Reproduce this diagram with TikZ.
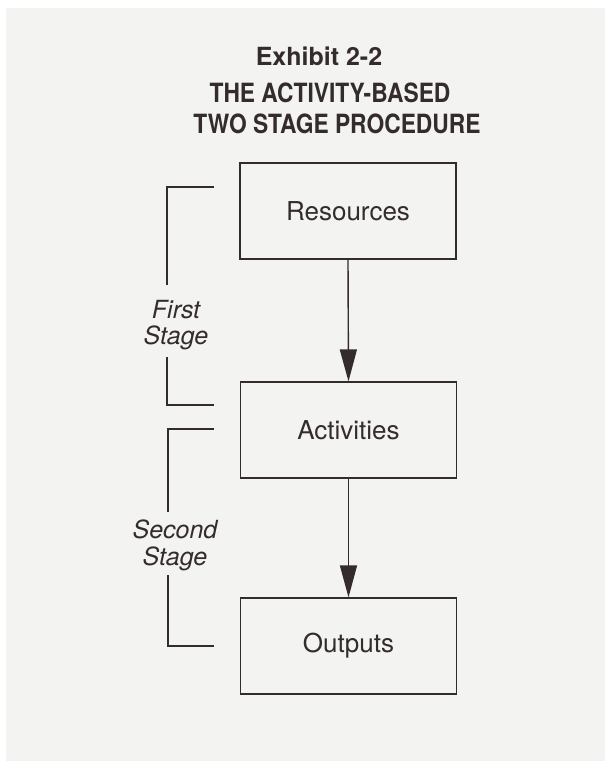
\documentclass[tikz,border=0pt]{standalone}
\usepackage{fontspec}
\setmainfont{TeX Gyre Heros}
\newfontfamily\ttlfont[FakeStretch=0.86]{TeX Gyre Heros}
\usetikzlibrary{arrows.meta}
\definecolor{ink}{RGB}{52,44,44}
\definecolor{paper}{RGB}{243,243,241}
\begin{document}
\begin{tikzpicture}[x=1pt,y=-1pt,
  every node/.style={text=ink,inner sep=0pt},
  box/.style={draw=ink,line width=1.2pt,minimum width=216pt,minimum height=96pt,font=\fontsize{26}{30}\selectfont},
  flow/.style={draw=ink,line width=1.4pt,-{Triangle[width=17pt,length=32pt]}},
  brk/.style={draw=ink,line width=1.2pt},
  stagelbl/.style={font=\fontsize{25}{28}\selectfont\itshape,anchor=base},
  ttl/.style={font=\ttlfont\fontsize{26.5}{30}\selectfont\bfseries,anchor=base}]
\useasboundingbox (0,0) rectangle (605,761);
\fill[white] (0,0) rectangle (605,761);
\fill[paper] (6,8) rectangle (605,761);
% title
\node[ttl,font=\fontsize{25}{30}\selectfont\bfseries] (t1) at (319,65) {Exhibit 2-2};
\node[ttl] (t2) at (330,102) {THE ACTIVITY-BASED};
\node[ttl] (t3) at (337,133) {TWO STAGE PROCEDURE};
% boxes
\node[box] (res) at (348,211) {Resources};
\node[box] (act) at (348.5,430) {Activities};
\node[box] (out) at (348.5,646) {Outputs};
% arrows
\draw[flow] (res.south) -- (act.north);
\draw[flow] (act.south) -- (out.north);
% first stage bracket
\coordinate (b1a) at (214,187);
\coordinate (b1b) at (167,187);
\coordinate (b1c) at (167,285);
\coordinate (b1d) at (167,357);
\coordinate (b1e) at (167,405);
\coordinate (b1f) at (214,405);
\draw[brk] (b1a) -- (b1b) -- (b1c);
\draw[brk] (b1d) -- (b1e) -- (b1f);
\node[stagelbl] (fs1) at (176,318) {First};
\node[stagelbl] (fs2) at (176,344) {Stage};
% second stage bracket
\coordinate (b2a) at (214,429);
\coordinate (b2b) at (168,429);
\coordinate (b2c) at (168,512);
\coordinate (b2d) at (168,575);
\coordinate (b2e) at (168,646);
\coordinate (b2f) at (214,646);
\draw[brk] (b2a) -- (b2b) -- (b2c);
\draw[brk] (b2d) -- (b2e) -- (b2f);
\node[stagelbl] (ss1) at (175,538) {Second};
\node[stagelbl] (ss2) at (175,565) {Stage};
\end{tikzpicture}
\end{document}
